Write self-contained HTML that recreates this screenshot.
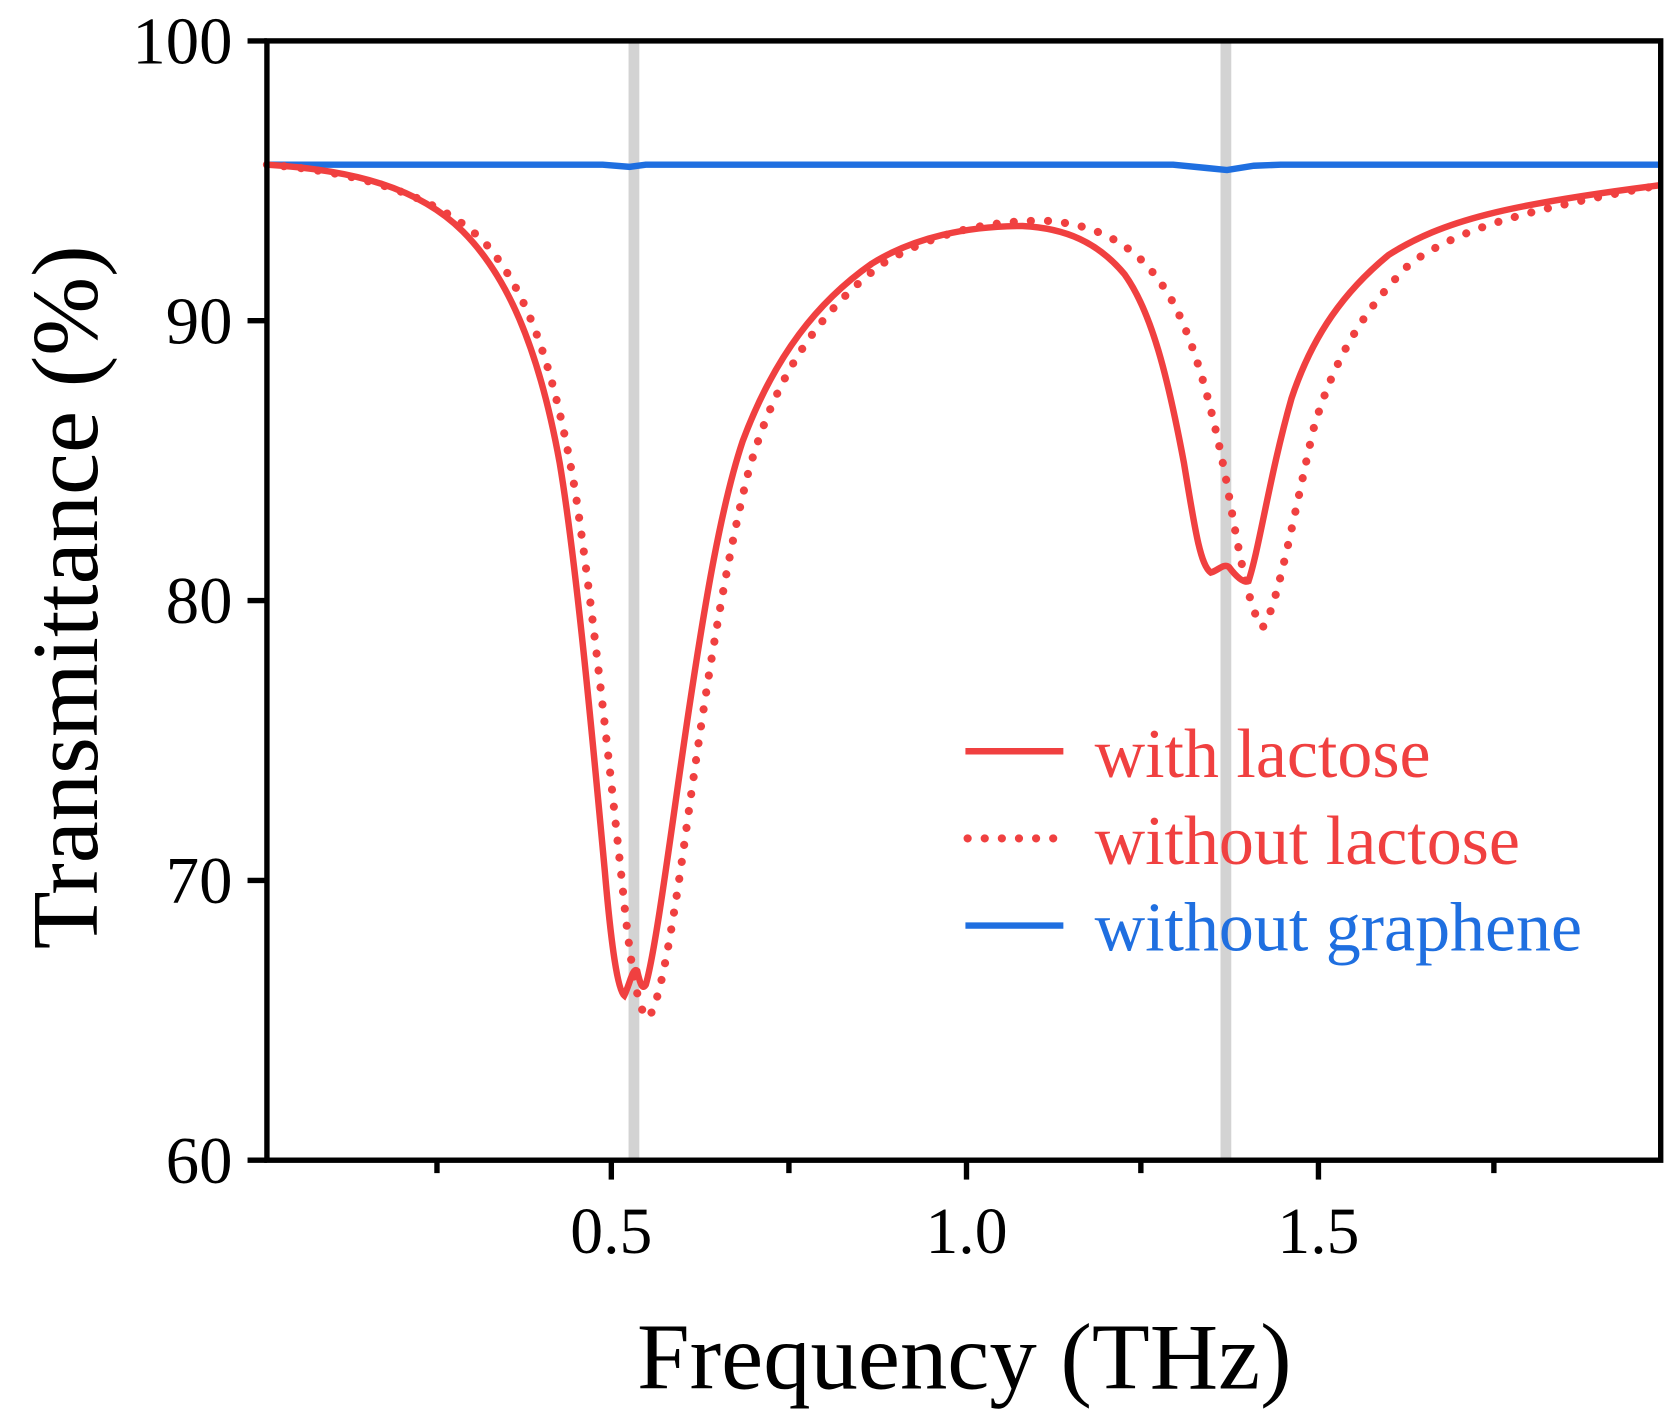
<!DOCTYPE html>
<html><head><style>html,body{margin:0;padding:0;background:#fff}svg{display:block}</style></head>
<body>
<svg width="1679" height="1417" viewBox="0 0 1560 1316.6" preserveAspectRatio="none" xmlns="http://www.w3.org/2000/svg" font-family="'Liberation Serif',serif">
<rect x="0" y="0" width="1560" height="1317" fill="#fff"/>
<rect x="584" y="38" width="10" height="1040" fill="#d3d3d3"/>
<rect x="1134" y="38" width="10" height="1040" fill="#d3d3d3"/>
<path d="M248,153 L560,153 L585,155 L600,153 L1090,153 L1120,156 L1140,158 L1165,154 L1190,153 L1543,153" fill="none" stroke="#1f6fe0" stroke-width="6"/>
<path d="M248,153 C330,158 390,175 430,215 C470,255 500,320 520,430 C535,520 550,680 562,810 C568,880 574,920 580,925 C585,915 588,898 592,902 C595,915 597,920 600,915 C610,880 625,760 640,660 C655,560 670,470 690,410 C720,330 760,280 810,245 C850,220 900,210 950,210 C990,212 1020,225 1045,255 C1070,290 1085,350 1100,430 C1110,490 1115,525 1125,532 C1132,530 1137,523 1142,527 C1148,535 1155,542 1160,540 C1170,510 1180,440 1200,370 C1220,310 1250,270 1290,237 C1340,205 1400,190 1543,172" fill="none" stroke="#f04040" stroke-width="6"/>
<path d="M248,153 C340,160 410,185 450,225 C490,270 515,340 535,460 C550,560 565,700 578,820 C585,890 592,940 602,946 C612,935 622,880 635,790 C650,680 670,540 695,440 C720,350 760,290 820,245 C870,215 920,205 970,205 C1020,208 1055,228 1080,265 C1105,300 1125,370 1140,450 C1152,520 1162,570 1173,583 C1185,570 1200,490 1220,400 C1240,330 1270,285 1310,245 C1360,210 1420,195 1543,172" fill="none" stroke="#f04040" stroke-dasharray="0.1 15.8" stroke-linecap="round" stroke-width="7.5"/>
<rect x="248" y="38" width="1295" height="1040" fill="none" stroke="#000" stroke-width="5"/>
<g stroke="#000" stroke-width="5">
<line x1="230" y1="38" x2="248" y2="38"/><line x1="230" y1="298" x2="248" y2="298"/><line x1="230" y1="558" x2="248" y2="558"/><line x1="230" y1="818" x2="248" y2="818"/><line x1="230" y1="1078" x2="248" y2="1078"/>
<line x1="406" y1="1078" x2="406" y2="1090"/><line x1="568" y1="1078" x2="568" y2="1096"/><line x1="733" y1="1078" x2="733" y2="1090"/><line x1="898" y1="1078" x2="898" y2="1096"/><line x1="1060" y1="1078" x2="1060" y2="1090"/><line x1="1225" y1="1078" x2="1225" y2="1096"/><line x1="1388" y1="1078" x2="1388" y2="1090"/>
</g>
<g font-size="62" text-anchor="end" fill="#000">
<text x="216" y="59">100</text><text x="216" y="319">90</text><text x="216" y="579">80</text><text x="216" y="839">70</text><text x="216" y="1099">60</text>
</g>
<g font-size="61" text-anchor="middle" fill="#000">
<text x="568" y="1164">0.5</text><text x="898" y="1164">1.0</text><text x="1225" y="1164">1.5</text>
</g>
<text x="896" y="1290" font-size="88" text-anchor="middle">Frequency (THz)</text>
<text transform="translate(90,555) rotate(-90)" font-size="88" text-anchor="middle">Transmittance (%)</text>
<line x1="897" y1="698" x2="988" y2="698" stroke="#f04040" stroke-width="6"/>
<line x1="899" y1="779" x2="988" y2="779" stroke="#f04040" stroke-width="7.5" stroke-dasharray="0.1 15.8" stroke-linecap="round"/>
<line x1="897" y1="860" x2="988" y2="860" stroke="#1f6fe0" stroke-width="6"/>
<g font-size="65">
<text x="1017" y="722" fill="#f04040">with lactose</text>
<text x="1017" y="803" fill="#f04040">without lactose</text>
<text x="1017" y="883" fill="#1f6fe0">without graphene</text>
</g>
</svg>
</body></html>
